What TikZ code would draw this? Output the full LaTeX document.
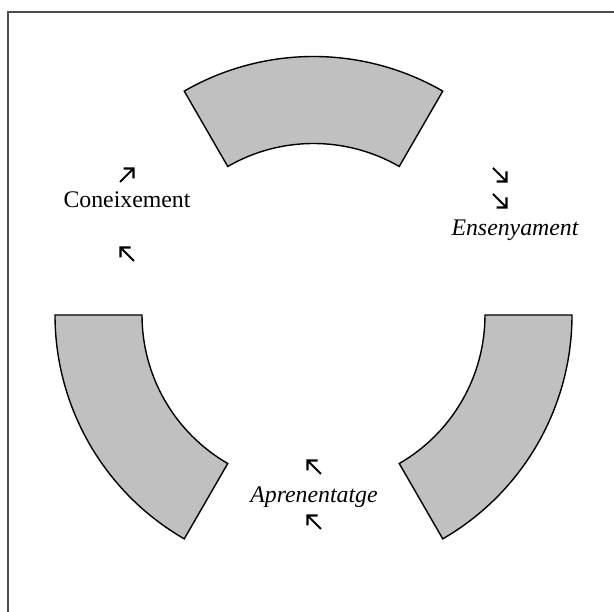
\documentclass[tikz,border=0pt]{standalone}
\usepackage{fontspec}
\setmainfont{Liberation Serif}
\usetikzlibrary{positioning}

\begin{document}
\begin{tikzpicture}[
  x=1pt, y=1pt,
  ringpart/.style={draw, fill={rgb,255:red,192;green,192;blue,192}, line width=1.4pt, line join=miter},
  lbl/.style={inner sep=0pt, font=\fontsize{23.8}{28}\selectfont},
  arrowNW/.pic={\draw[line width=2.1pt, line join=miter] (7,-7) -- (-6.5,6.5) (3.5,6.5) -- (-6.5,6.5) -- (-6.5,-3.5);},
  thick]

  \useasboundingbox (0,0) rectangle (614,612);
  \draw[line width=2pt, gray!60!black] (8,-20) rectangle (640,600);

  % three parts of the ring
  \begin{scope}[shift={(313.5,297)}]
    \draw[ringpart] (60:258.5) arc[start angle=60, end angle=120, radius=258.5]
      -- (120:171.5) arc[start angle=120, end angle=60, radius=171.5] -- cycle;
    \draw[ringpart] (180:258.5) arc[start angle=180, end angle=240, radius=258.5]
      -- (240:171.5) arc[start angle=240, end angle=180, radius=171.5] -- cycle;
    \draw[ringpart] (300:258.5) arc[start angle=300, end angle=360, radius=258.5]
      -- (360:171.5) arc[start angle=360, end angle=300, radius=171.5] -- cycle;
  \end{scope}

  \node[lbl] (coneix) at (127,412) {Coneixement};
  \node[lbl] (ensenya) at (515,382) {\itshape Ensenyament};
  \node[lbl] (aprenen) at (314,115) {\itshape Aprenentatge};

  \pic[xscale=-1] at (127,437) {arrowNW};
  \pic at (127,358) {arrowNW};
  \pic[xscale=-1, yscale=-1] at (500,437) {arrowNW};
  \pic[xscale=-1, yscale=-1] at (500,411) {arrowNW};
  \pic at (314,145) {arrowNW};
  \pic at (314,90) {arrowNW};
\end{tikzpicture}
\end{document}
